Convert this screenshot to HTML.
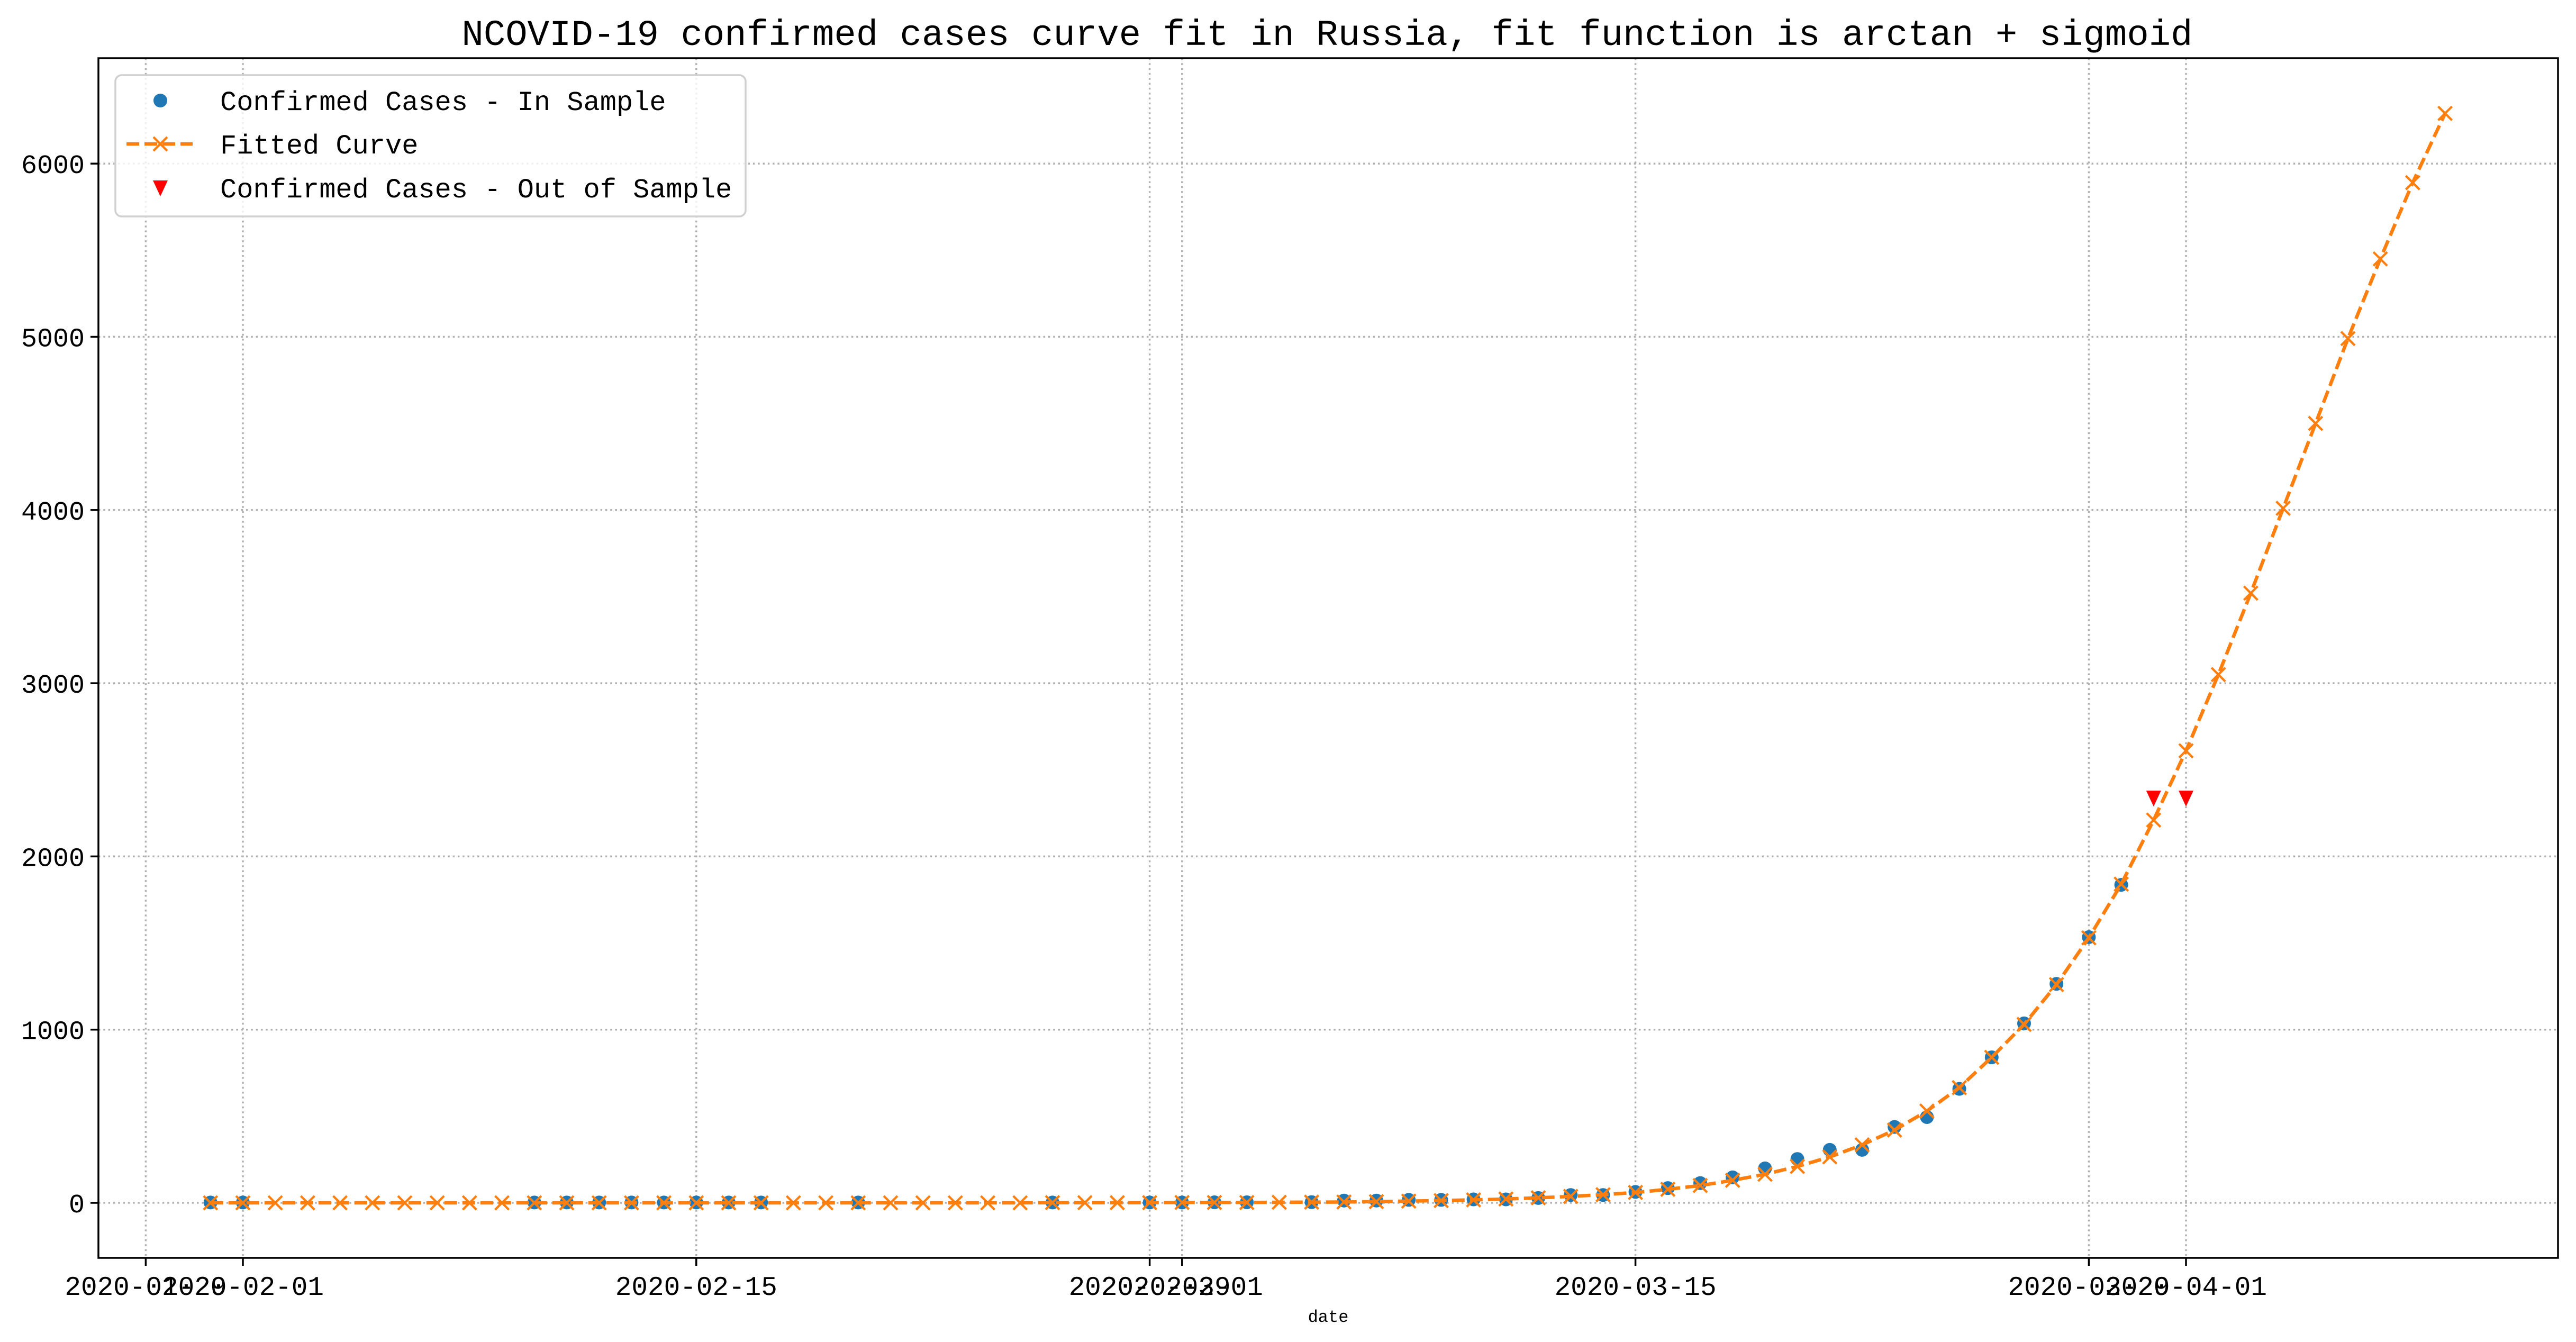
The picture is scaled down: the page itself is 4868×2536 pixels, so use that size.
<!DOCTYPE html>
<html><head><meta charset="utf-8"><style>
html,body{margin:0;padding:0;background:#fff;}
svg{display:block;}
text{font-family:"Liberation Mono","Noto Sans CJK SC",monospace;fill:#000;}
</style></head><body>
<svg id="chart" xmlns="http://www.w3.org/2000/svg" width="4868" height="2536" viewBox="0 0 4868 2536">
<rect width="4868" height="2536" fill="#fff"/>
<text x="2508" y="85" font-size="69" text-anchor="middle">NCOVID-19 confirmed cases curve fit in Russia, fit function is arctan + sigmoid</text>
<g id="grid"></g>
<g id="series"></g>
<g id="axes"></g>
<text x="2510" y="2498" font-size="32" text-anchor="middle">date</text>
<g id="legend"></g>
</svg>
<script>
const inDates = ["2020-01-31","2020-02-01","2020-02-10","2020-02-11","2020-02-12","2020-02-13","2020-02-14","2020-02-15","2020-02-16","2020-02-17","2020-02-20","2020-02-26","2020-02-29","2020-03-01","2020-03-02","2020-03-03","2020-03-05","2020-03-06","2020-03-07","2020-03-08","2020-03-09","2020-03-10","2020-03-11","2020-03-12","2020-03-13","2020-03-14","2020-03-15","2020-03-16","2020-03-17","2020-03-18","2020-03-19","2020-03-20","2020-03-21","2020-03-22","2020-03-23","2020-03-24","2020-03-25","2020-03-26","2020-03-27","2020-03-28","2020-03-29","2020-03-30"];
const inValues = [2,2,2,2,2,2,2,2,2,2,2,2,2,2,3,3,4,13,13,17,17,20,20,28,45,45,63,85,114,147,199,253,306,306,438,495,658,840,1036,1264,1534,1836];
const fitStart = "2020-01-31";
const fitValues = [0,0,0,0,0,0,0,0,0,0,0,0,0,0,0,0,0,0,0,0,0,0,0,0,0,0,1,1,1,1,2,2,2,3,4,5,7,10,13,17,22,29,37,47,60,78,100,130,165,210,265,335,420,530,665,840,1030,1260,1530,1840,2210,2610,3050,3520,4010,4500,4990,5450,5890,6290];
const outDates = ["2020-03-31","2020-04-01"];
const outValues = [2337,2337];
const xTicks = ["2020-01-29","2020-02-01","2020-02-15","2020-02-29","2020-03-01","2020-03-15","2020-03-29","2020-04-01"];
const yTicks = [0,1000,2000,3000,4000,5000,6000];

const NS="http://www.w3.org/2000/svg";
const L=186,R=4834,T=110,B=2377;
const base=Date.UTC(2020,1,1), DAY=86400000;
function day(s){const p=s.split('-');return (Date.UTC(+p[0],p[1]-1,+p[2])-base)/DAY;}
function X(d){return 459+day(d)*61.2;}
function Xn(n){return 459+n*61.2;}
function Y(v){return 2273-v*0.3273;}
function mk(tag,attrs,parent){const e=document.createElementNS(NS,tag);for(const k in attrs)e.setAttribute(k,attrs[k]);parent.appendChild(e);return e;}
const grid=document.getElementById('grid'),series=document.getElementById('series'),axes=document.getElementById('axes'),legend=document.getElementById('legend');

xTicks.forEach(t=>{const x=X(t);
 const g=mk('line',{x1:x,x2:x,y1:T,y2:B,stroke:'#b0b0b0','stroke-width':3.5,'stroke-dasharray':'3.5 5.8'},grid);
 
 
 const tk=mk('line',{x1:x,x2:x,y1:B,y2:B+15,stroke:'#000','stroke-width':3.5},axes);
 
 
 const tx=mk('text',{x:x,y:2447,'font-size':51,'text-anchor':'middle'},axes);tx.textContent=t;
 
 
});
yTicks.forEach(v=>{const y=Y(v);
 const g=mk('line',{x1:L,x2:R,y1:y,y2:y,stroke:'#b0b0b0','stroke-width':3.5,'stroke-dasharray':'3.5 5.8'},grid);
 
 
 const tk=mk('line',{x1:L-15,x2:L,y1:y,y2:y,stroke:'#000','stroke-width':3.5},axes);
 
 
 const tx=mk('text',{x:L-26,y:y+18,'font-size':50,'text-anchor':'end'},axes);tx.textContent=v;
 
 
});
const frame=mk('rect',{x:L,y:T,width:R-L,height:B-T,fill:'none',stroke:'#000','stroke-width':3.5},axes);



// in-sample dots
inDates.forEach((d,i)=>{const c=mk('circle',{cx:X(d),cy:Y(inValues[i]),r:13,fill:'#1f77b4'},series);
 
 });
// fitted line
const f0=day(fitStart);
const pts=fitValues.map((v,i)=>Xn(f0+i).toFixed(1)+','+Y(v).toFixed(1)).join(' ');
const pl=mk('polyline',{points:pts,fill:'none',stroke:'#ff7f0e','stroke-width':6.5,'stroke-dasharray':'24 10'},series);


fitValues.forEach((v,i)=>{const x=Xn(f0+i),y=Y(v),s=13;
 const p=mk('path',{d:`M${x-s},${y-s}L${x+s},${y+s}M${x-s},${y+s}L${x+s},${y-s}`,stroke:'#ff7f0e','stroke-width':4.3,fill:'none'},series);
 
 });
// out-of-sample triangles
outDates.forEach((d,i)=>{const x=X(d),y=Y(outValues[i]);
 const p=mk('path',{d:`M${x-14},${y-14}L${x+14},${y-14}L${x},${y+16}Z`,fill:'#ff0000'},series);
 
 });

// legend
const lb=mk('rect',{x:218,y:142,width:1191,height:267,rx:12,fill:'#fff','fill-opacity':0.8,stroke:'#d0d0d0','stroke-width':3.5},legend);


const e1=mk('circle',{cx:303,cy:190,r:13,fill:'#1f77b4'},legend);


const e2=mk('line',{x1:239,x2:364,y1:272,y2:272,stroke:'#ff7f0e','stroke-width':6.5,'stroke-dasharray':'24 10'},legend);


const e3=mk('path',{d:'M290,259L316,285M290,285L316,259',stroke:'#ff7f0e','stroke-width':4.3},legend);


const e4=mk('path',{d:'M289,341L317,341L303,371Z',fill:'#ff0000'},legend);


[["Confirmed Cases - In Sample",208],["Fitted Curve",290],["Confirmed Cases - Out of Sample",373]].forEach(([t,y])=>{
 const tx=mk('text',{x:416,y:y,'font-size':52},legend);tx.textContent=t;
 
 });
</script>
</body></html>
